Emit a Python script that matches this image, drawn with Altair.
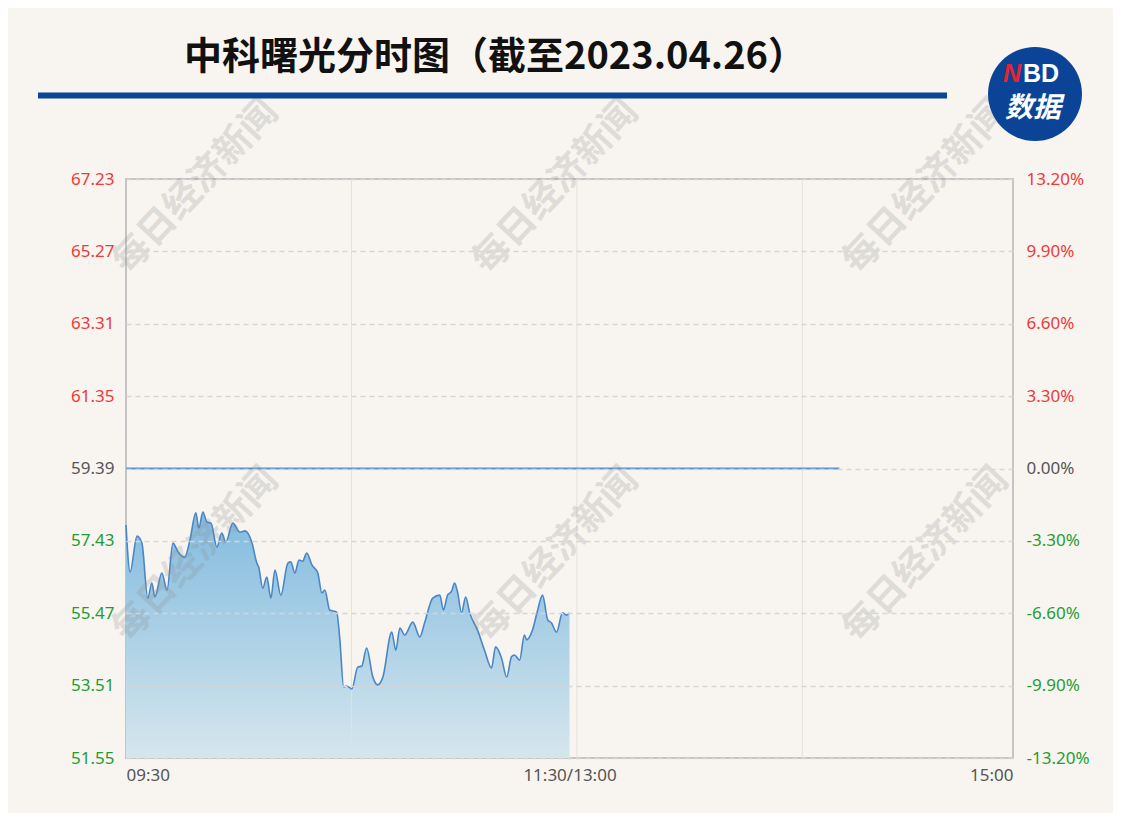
import altair as alt
import pandas as pd

# ---------------- data ----------------
minutes = [0, 1.1, 3.0, 4.3, 5.9, 7.0, 7.8, 9.7, 11.1, 12.7,
           14.1, 15.9, 17.3, 18.9, 19.7, 20.8, 21.9, 23.0, 24.6, 25.9,
           27.0, 28.9, 30.8, 32.2, 34.1, 35.4, 35.9, 37.0, 38.1, 39.2,
           40.3, 41.9, 43.8, 44.6, 45.7, 46.8, 47.8, 48.9, 50.3, 51.9,
           53.0, 53.8, 55.1, 57.0, 57.8, 58.9, 59.7, 61.1, 62.7, 63.8,
           65.1, 66.8, 68.1, 69.5, 71.9, 73.0, 74.1, 75.4, 77.6, 79.5,
           80.8, 83.0, 84.9, 85.9, 87.0, 88.1, 88.9, 89.7, 90.8, 91.9,
           93.0, 95.1, 97.0, 98.9, 100.0, 101.6, 103.0, 104.3, 105.1, 106.5,
           107.8, 108.4, 110.0, 111.4, 112.7, 114.1, 115.1, 116.5, 118.1, 119.2,
           120]
prices = [57.86, 56.59, 57.56, 57.37, 55.88, 56.29, 55.91, 56.56, 56.10, 57.37,
          57.13, 56.99, 57.45, 58.19, 57.78, 58.21, 57.94, 57.91, 57.26, 57.64,
          57.40, 57.91, 57.67, 57.70, 57.37, 56.83, 56.72, 56.15, 56.45, 55.88,
          56.64, 55.96, 56.83, 56.86, 56.56, 56.91, 56.88, 57.10, 56.78, 56.56,
          56.02, 56.10, 55.56, 55.50, 54.83, 53.47, 53.50, 53.42, 54.01, 54.04,
          54.53, 53.74, 53.53, 53.74, 54.96, 54.47, 55.07, 54.88, 55.23, 54.83,
          55.21, 55.88, 55.96, 55.56, 55.96, 56.07, 56.29, 56.05, 55.48, 55.91,
          55.48, 55.02, 54.47, 53.99, 54.56, 54.26, 53.74, 54.29, 54.34, 54.20,
          54.88, 54.75, 55.02, 55.56, 55.96, 55.29, 55.21, 54.96, 55.48, 55.42,
          55.48]

prev_close = 59.39
price_ticks = [67.23, 65.27, 63.31, 61.35, 59.39, 57.43, 55.47, 53.51, 51.55]
time_ticks = [0, 120, 240]
time_labels = ["09:30", "11:30/13:00", "15:00"]
vgrid_minutes = [61, 122, 183]
ref_line_end = 193

title_text = "中科曙光分时图（截至2023.04.26）"
watermark_text = "每日经济新闻"

# ---------------- styles ----------------
W, H = 887, 579
BG = "#f8f5f0"
RED, GREEN, GRAY = "#ee3a3a", "#1f9d34", "#555555"
FONT = "Noto Sans"
CJK = "Noto Sans CJK SC"

df = pd.DataFrame({"minute": minutes, "price": prices})
one = pd.DataFrame({"a": [0]})

x_scale = alt.Scale(domain=[time_ticks[0], time_ticks[-1]], nice=False, zero=False)
y_scale = alt.Scale(domain=[price_ticks[-1], price_ticks[0]], nice=False, zero=False)

label_color = alt.ExprRef(
    f"datum.value > {prev_close + 0.01} ? '{RED}' : (datum.value < {prev_close - 0.01} ? '{GREEN}' : '{GRAY}')"
)

x_label_expr = " : ".join(
    [f"datum.value == {t} ? '{l}'" for t, l in zip(time_ticks[:-1], time_labels[:-1])]
) + f" : '{time_labels[-1]}'"

x_axis = alt.Axis(values=time_ticks, labelExpr=x_label_expr, grid=False, ticks=False,
                  domain=False, labelFlush=True, labelFontSize=17, labelFont=FONT,
                  labelColor=GRAY, labelPadding=9, title=None)

left_axis = alt.Axis(values=price_ticks, format=".2f", grid=True, gridDash=[5, 4],
                     gridColor="#d5d5d5", gridWidth=1.5, domain=False, ticks=False,
                     labelFontSize=17, labelFont=FONT, labelColor=label_color,
                     labelPadding=12, title=None, zindex=1)

pct_expr = (f"(datum.value < {prev_close - 0.001} ? '-' : '') + "
            f"format(abs((datum.value - {prev_close}) / {prev_close} * 100), '.2f') + '%'")
right_axis = alt.Axis(values=price_ticks, orient="right", labelExpr=pct_expr, grid=False,
                      domain=False, ticks=False, labelFontSize=17, labelFont=FONT,
                      labelColor=label_color, labelPadding=13, title=None)

gradient = alt.Gradient(
    gradient="linear",
    stops=[alt.GradientStop(color="#82bbdf", offset=0),
           alt.GradientStop(color="#d6e6ed", offset=1)],
    x1=1, x2=1, y1=0, y2=1,
)

area = alt.Chart(df).mark_area(interpolate="monotone", fill=gradient).encode(
    x=alt.X("minute:Q", scale=x_scale, axis=x_axis),
    y=alt.Y("price:Q", scale=y_scale, axis=left_axis),
    y2=alt.Y2Datum(price_ticks[-1]),
)

vgrid = alt.Chart(pd.DataFrame({"m": vgrid_minutes})).mark_rule(
    color="#e3e1dc", strokeWidth=1
).encode(x=alt.X("m:Q", scale=x_scale))

line = alt.Chart(df).mark_line(interpolate="monotone", color="#4a86c5", strokeWidth=1.6).encode(
    x=alt.X("minute:Q", scale=x_scale),
    y=alt.Y("price:Q", scale=y_scale, axis=right_axis),
)

ref_rule = alt.Chart(one).mark_rule(color="#5b90cf", strokeWidth=2).encode(
    x=alt.XDatum(time_ticks[0], scale=x_scale),
    x2=alt.X2Datum(ref_line_end),
    y=alt.YDatum(prev_close, scale=y_scale, axis=None),
)

# watermarks
wm_x = [70, 430, 800]
wm_y = [8, 376]
watermarks = []
for wy in wm_y:
    for wx in wm_x:
        watermarks.append(
            alt.Chart(one).mark_text(
                angle=313, font=CJK, fontWeight="bold", fontSize=37, color="#8e8e8e",
                opacity=0.24, align="center", baseline="middle",
            ).encode(x=alt.value(wx), y=alt.value(wy), text=alt.value(watermark_text))
        )

title = alt.Chart(one).mark_text(
    font=CJK, fontWeight="bold", fontSize=38, color="#111111", align="center", baseline="middle"
).encode(x=alt.value(369), y=alt.value(-121), text=alt.value(title_text))

title_rule = alt.Chart(one).mark_rule(color="#0a4596", strokeWidth=6).encode(
    x=alt.value(-88), x2=alt.value(821), y=alt.value(-83.5)
)

logo_circle = alt.Chart(one).mark_circle(size=8825, color="#0b4497", opacity=1).encode(
    x=alt.value(909), y=alt.value(-85)
)
logo_n = alt.Chart(one).mark_text(
    font="Liberation Sans", fontWeight="bold", fontStyle="italic", fontSize=25,
    color="#e3262d", align="right", baseline="middle"
).encode(x=alt.value(895), y=alt.value(-105), text=alt.value("N"))
logo_bd = alt.Chart(one).mark_text(
    font="Liberation Sans", fontWeight="bold", fontSize=25,
    color="#ffffff", align="left", baseline="middle"
).encode(x=alt.value(897), y=alt.value(-105), text=alt.value("BD"))
logo_cn = alt.Chart(one).mark_text(
    font=CJK, fontWeight="bold", fontStyle="italic", fontSize=28,
    color="#ffffff", align="center", baseline="middle"
).encode(x=alt.value(907), y=alt.value(-70), text=alt.value("数据"))

chart = alt.layer(
    area, vgrid, line, ref_rule, *watermarks, title, title_rule, logo_circle, logo_n, logo_bd, logo_cn
).resolve_axis(y="independent").properties(
    width=W, height=H,
    autosize=alt.AutoSizeParams(type="none"),
    padding={"left": 118, "top": 171, "right": 100, "bottom": 55},
    background=BG,
).configure_view(stroke="#c4c4c4", strokeWidth=2)

chart.save("out.html", embed_options={"renderer": "svg", "actions": False})
